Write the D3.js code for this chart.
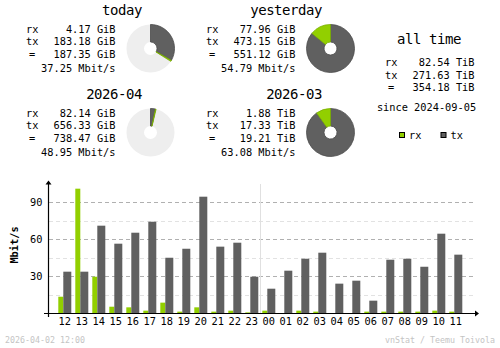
<!DOCTYPE html>
<html><head><meta charset="utf-8">
<script src="https://cdn.jsdelivr.net/npm/d3@7"></script>
<style>
body{margin:0;background:#fff}
svg{display:block}
text{font-family:"DejaVu Sans Mono",monospace;fill:#000}
</style>
</head><body>
<svg id="c" width="500" height="348"></svg>
<script>
// ---- data ----
const hours = ["12","13","14","15","16","17","18","19","20","21","22","23","00","01","02","03","04","05","06","07","08","09","10","11"];
const rxMbit = [13.2,100.8,29.4,5.1,4.6,1.9,8.4,1.1,4.6,1.1,1.9,0.5,1.9,0,1.9,1.1,0,0,1.1,1.1,1.1,1.1,1.9,1.1];
const txMbit = [33.5,33.5,70.8,56.2,65.1,74.0,44.8,52.1,94.3,53.8,57.0,29.4,19.7,34.3,44.0,48.9,23.8,26.2,10.0,43.2,44.0,37.5,64.3,47.3];
const yMajor = [30,60,90];
const yMinor = [15,45,75];

const periodNames = ["today","yesterday","2026-04","2026-03"];
const periodRxText = ["4.17 GiB","77.96 GiB","82.14 GiB","1.88 TiB"];
const periodTxText = ["183.18 GiB","473.15 GiB","656.33 GiB","17.33 TiB"];
const periodTotalText = ["187.35 GiB","551.12 GiB","738.47 GiB","19.21 TiB"];
const periodRateText = ["37.25 Mbit/s","54.79 Mbit/s","48.95 Mbit/s","63.08 Mbit/s"];
const periodRxGiB = [4.17, 77.96, 82.14, 1.88*1024];
const periodTxGiB = [183.18, 473.15, 656.33, 17.33*1024];

const allTimeRows = [["rx","82.54 TiB"],["tx","271.63 TiB"],["=","354.18 TiB"]];
const sinceText = "since 2024-09-05";
const footerLeft = "2026-04-02 12:00";
const footerRight = "vnStat / Teemu Toivola";

// ---- colours ----
const cRx = "#92cf00", cTx = "#606060";
const cRxEdge = "#7aae00", cTxEdge = "#4a4a4a";

const svg = d3.select("#c");

// ---- summary blocks ----
const blockPos = [[0,0],[180,0],[0,84],[180,84]];
const arc = d3.arc().innerRadius(6.5).outerRadius(24);

periodNames.forEach((name,i)=>{
  const [dx,dy] = blockPos[i];
  const g = svg.append("g").attr("transform",`translate(${dx},${dy})`);
  g.append("text").attr("x",142).attr("y",15).attr("text-anchor","end")
    .style("font-size","14px").style("letter-spacing","-0.45px").text(name);
  const rows = [["rx",periodRxText[i]],["tx",periodTxText[i]],["=",periodTotalText[i]],["",periodRateText[i]]];
  const ys = [33,45.4,58,72];
  rows.forEach((r,j)=>{
    g.append("text").attr("x",r[0]==="="?29:26).attr("y",ys[j]).style("font-size","10.3px").text(r[0]);
    g.append("text").attr("x",115.5).attr("y",ys[j]).attr("text-anchor","end").style("font-size","10.3px").text(r[1]);
  });
  // pie
  const pair = i<2 ? [0,1] : [2,3];
  const maxTot = d3.max(pair, k=>periodRxGiB[k]+periodTxGiB[k]);
  const tot = periodRxGiB[i]+periodTxGiB[i];
  const p = g.append("g").attr("transform","translate(150.5,48.5)");
  if (tot < maxTot) {
    p.append("path").attr("d",arc({startAngle:0,endAngle:2*Math.PI})).attr("fill","#eeeeee");
  }
  const aTx = periodTxGiB[i]/maxTot*2*Math.PI;
  const aRx = periodRxGiB[i]/maxTot*2*Math.PI;
  p.append("path").attr("d",arc({startAngle:0,endAngle:aTx})).attr("fill",cTx).attr("stroke",cTxEdge).attr("stroke-width",0.8);
  p.append("path").attr("d",arc({startAngle:aTx,endAngle:aTx+aRx})).attr("fill",cRx).attr("stroke",cRxEdge).attr("stroke-width",0.8);
});

// ---- all time ----
const at = svg.append("g");
at.append("text").attr("x",429).attr("y",44).attr("text-anchor","middle")
  .style("font-size","14px").style("letter-spacing","-0.45px").text("all time");
[62.5,75,87.5].forEach((yc,j)=>{
  const r = allTimeRows[j];
  at.append("text").attr("x",r[0]==="="?388:385).attr("y",yc+3.7).style("font-size","10.3px").text(r[0]);
  at.append("text").attr("x",474.5).attr("y",yc+3.7).attr("text-anchor","end").style("font-size","10.3px").text(r[1]);
});
at.append("text").attr("x",426.5).attr("y",111.2).attr("text-anchor","middle").style("font-size","10.3px").text(sinceText);
// legend
[[399,cRx,"rx"],[440.5,cTx,"tx"]].forEach(([lx,col,lab])=>{
  at.append("rect").attr("x",lx+0.5).attr("y",132.5).attr("width",5).attr("height",5)
    .attr("fill",col).attr("stroke","#000").attr("stroke-width",1);
  at.append("text").attr("x",lx+10).attr("y",138.8).style("font-size","10.3px").text(lab);
});

// ---- hourly chart ----
const x = d3.scaleBand().domain(hours).range([58.3, 58.3+23*17+13]).paddingInner(4/17).paddingOuter(0);
const y = d3.scaleLinear().domain([0,90]).range([313,202]);
const ch = svg.append("g");

// grid lines
yMinor.forEach(v=>{
  ch.append("line").attr("x1",49).attr("x2",473).attr("y1",Math.round(y(v))+0.5).attr("y2",Math.round(y(v))+0.5)
    .attr("stroke","#e2e2e2").attr("stroke-dasharray","4,3");
});
yMajor.forEach(v=>{
  ch.append("line").attr("x1",49).attr("x2",473).attr("y1",Math.round(y(v))+0.5).attr("y2",Math.round(y(v))+0.5)
    .attr("stroke","#b0b0b0").attr("stroke-dasharray","4,3");
  ch.append("text").attr("x",42.5).attr("y",y(v)+3.7).attr("text-anchor","end")
    .style("font-size","10.3px").text(String(v));
});

// day separator
const sepX = Math.round(x("00")) - 1.5;
ch.append("line").attr("x1",sepX).attr("x2",sepX).attr("y1",184).attr("y2",313).attr("stroke","#e0e0e0");

// bars
ch.selectAll("rect.rx").data(hours).join("rect").attr("class","rx")
  .attr("x",h=>x(h)).attr("width",5)
  .attr("y",(h,i)=>y(rxMbit[i])).attr("height",(h,i)=>y(0)-y(rxMbit[i]))
  .attr("fill",cRx);
ch.selectAll("rect.tx").data(hours).join("rect").attr("class","tx")
  .attr("x",h=>x(h)+5).attr("width",8)
  .attr("y",(h,i)=>y(txMbit[i])).attr("height",(h,i)=>y(0)-y(txMbit[i]))
  .attr("fill",cTx);

// hour labels
ch.selectAll("text.hl").data(hours).join("text").attr("class","hl")
  .attr("x",h=>x(h)+x.bandwidth()/2).attr("y",324.7).attr("text-anchor","middle")
  .style("font-size","10.3px").text(h=>h);

// axes
ch.append("line").attr("x1",48.5).attr("x2",48.5).attr("y1",182).attr("y2",317).attr("stroke","#000").attr("stroke-width",1.2);
ch.append("line").attr("x1",44).attr("x2",476).attr("y1",313.5).attr("y2",313.5).attr("stroke","#000").attr("stroke-width",1.2);
ch.append("path").attr("d","M45.5,184.5 L51.5,184.5 L48.5,180.5 Z").attr("fill","#000");
ch.append("path").attr("d","M475,310.5 L475,316.5 L479,313.5 Z").attr("fill","#000");

// y label
ch.append("text").attr("transform","translate(17.5,245) rotate(-90)").attr("text-anchor","middle")
  .style("font-size","10.3px").style("font-weight","bold").text("Mbit/s");

// footer
svg.append("text").attr("x",5).attr("y",343).style("font-size","8.3px").style("fill","#c4c4c4").text(footerLeft);
svg.append("text").attr("x",495).attr("y",343).attr("text-anchor","end").style("font-size","8.3px").style("fill","#c4c4c4").text(footerRight);
</script>
</body></html>
